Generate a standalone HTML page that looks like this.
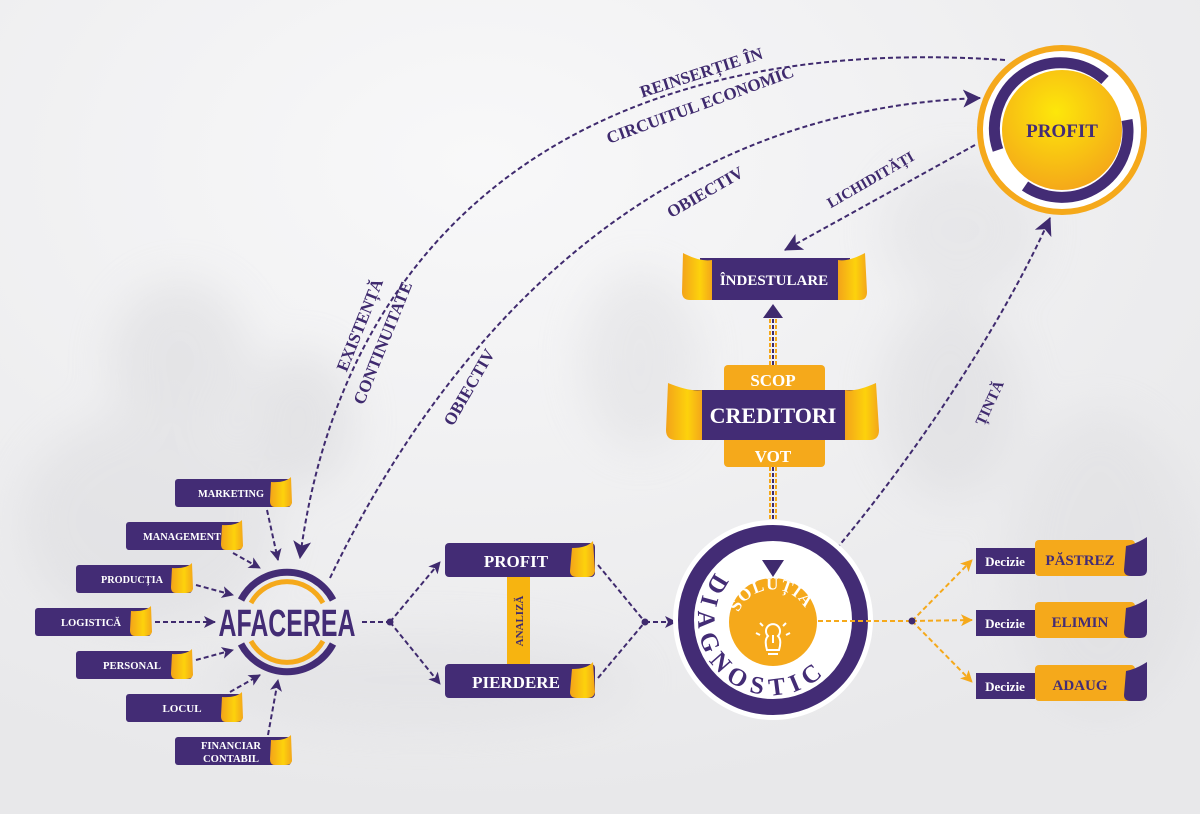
<!DOCTYPE html>
<html><head><meta charset="utf-8"><style>
html,body{margin:0;padding:0;width:1200px;height:814px;overflow:hidden;background:#ededef}
svg{display:block}
text{font-family:"Liberation Serif","DejaVu Serif",serif;font-weight:bold}
</style></head><body>
<svg width="1200" height="814" viewBox="0 0 1200 814" xmlns="http://www.w3.org/2000/svg">
<defs>
<filter id="blur" x="-50%" y="-50%" width="200%" height="200%"><feGaussianBlur stdDeviation="22"/></filter>
<radialGradient id="gy" cx="45%" cy="35%" r="70%"><stop offset="0" stop-color="#fde70a"/><stop offset="1" stop-color="#f4a41a"/></radialGradient>
<radialGradient id="bg" cx="40%" cy="20%" r="80%"><stop offset="0" stop-color="#f8f8f9"/><stop offset="1" stop-color="#e8e8ea"/></radialGradient>
<linearGradient id="curl" x1="0" y1="0" x2="1" y2="0"><stop offset="0" stop-color="#f3a31a"/><stop offset=".6" stop-color="#fdd20c"/><stop offset="1" stop-color="#f3a61a"/></linearGradient>
<marker id="ap" viewBox="0 0 12 12" refX="11" refY="6" markerWidth="12" markerHeight="12" markerUnits="userSpaceOnUse" orient="auto"><path d="M0,0 L12,6 L0,12 L3,6Z" fill="#3f2a6e"/></marker>
<marker id="apb" viewBox="0 0 16 16" refX="15" refY="8" markerWidth="18" markerHeight="18" markerUnits="userSpaceOnUse" orient="auto"><path d="M0,0 L16,8 L0,16 L4,8Z" fill="#3f2a6e"/></marker>
<marker id="ay" viewBox="0 0 12 12" refX="11" refY="6" markerWidth="12" markerHeight="12" markerUnits="userSpaceOnUse" orient="auto"><path d="M0,0 L12,6 L0,12 L3,6Z" fill="#f5a91b"/></marker>
</defs>

<rect width="1200" height="814" fill="url(#bg)"/>
<g filter="url(#blur)" opacity=".3">
<ellipse cx="180" cy="360" rx="70" ry="80" fill="#c9c9cd"/>
<ellipse cx="150" cy="520" rx="130" ry="110" fill="#cfcfd3"/>
<ellipse cx="300" cy="420" rx="55" ry="70" fill="#c6c6ca"/>
<ellipse cx="640" cy="360" rx="60" ry="90" fill="#d0d0d4"/>
<ellipse cx="960" cy="230" rx="80" ry="70" fill="#d4d4d8"/>
<ellipse cx="950" cy="400" rx="70" ry="100" fill="#cdcdd1"/>
<ellipse cx="1100" cy="560" rx="90" ry="150" fill="#d6d6d9"/>
<ellipse cx="420" cy="680" rx="220" ry="50" fill="#d7d7da"/>
</g>

<g fill="none" stroke="#3f2a6e" stroke-width="2" stroke-dasharray="5 3">
<path d="M1005,60 C560,30 340,250 300,558" marker-end="url(#apb)"/>
<path d="M330,578 C440,350 640,110 980,98" marker-end="url(#apb)"/>
<path d="M975,145 L785,250" marker-end="url(#apb)"/>
<path d="M805,585 C900,480 1000,330 1050,218" marker-end="url(#apb)"/>
</g>

<g fill="#3f2a6e" font-size="17" text-anchor="middle">
<text transform="translate(703,78) rotate(-18)">REINSERȚIE ÎN</text>
<text transform="translate(702,110) rotate(-20)">CIRCUITUL ECONOMIC</text>
<text transform="translate(708,197) rotate(-30)">OBIECTIV</text>
<text transform="translate(365,327) rotate(-68)">EXISTENȚĂ</text>
<text transform="translate(388,345) rotate(-68)">CONTINUITATE</text>
<text transform="translate(474,390) rotate(-60)">OBIECTIV</text>
<text transform="translate(873,184) rotate(-30)" font-size="15">LICHIDITĂȚI</text>
<text transform="translate(994,405) rotate(-65)" font-size="15">ȚINTĂ</text>
</g>

<g font-size="11" fill="#fff" text-anchor="middle">
<g transform="translate(175,479)"><rect width="116" height="28" rx="3" fill="#432c75"/><path d="M96,3 Q110,4 116,-2 L117,24 Q116,28 110,28 L100,28 Q95,28 95,22Z" fill="url(#curl)"/><text x="56" y="18" textLength="66" lengthAdjust="spacingAndGlyphs">MARKETING</text></g>
<g transform="translate(126,522)"><rect width="116" height="28" rx="3" fill="#432c75"/><path d="M96,3 Q110,4 116,-2 L117,24 Q116,28 110,28 L100,28 Q95,28 95,22Z" fill="url(#curl)"/><text x="56" y="18" textLength="78" lengthAdjust="spacingAndGlyphs">MANAGEMENT</text></g>
<g transform="translate(76,565)"><rect width="116" height="28" rx="3" fill="#432c75"/><path d="M96,3 Q110,4 116,-2 L117,24 Q116,28 110,28 L100,28 Q95,28 95,22Z" fill="url(#curl)"/><text x="56" y="18" textLength="62" lengthAdjust="spacingAndGlyphs">PRODUCȚIA</text></g>
<g transform="translate(35,608)"><rect width="116" height="28" rx="3" fill="#432c75"/><path d="M96,3 Q110,4 116,-2 L117,24 Q116,28 110,28 L100,28 Q95,28 95,22Z" fill="url(#curl)"/><text x="56" y="18" textLength="60" lengthAdjust="spacingAndGlyphs">LOGISTICĂ</text></g>
<g transform="translate(76,651)"><rect width="116" height="28" rx="3" fill="#432c75"/><path d="M96,3 Q110,4 116,-2 L117,24 Q116,28 110,28 L100,28 Q95,28 95,22Z" fill="url(#curl)"/><text x="56" y="18" textLength="58" lengthAdjust="spacingAndGlyphs">PERSONAL</text></g>
<g transform="translate(126,694)"><rect width="116" height="28" rx="3" fill="#432c75"/><path d="M96,3 Q110,4 116,-2 L117,24 Q116,28 110,28 L100,28 Q95,28 95,22Z" fill="url(#curl)"/><text x="56" y="18">LOCUL</text></g>
<g transform="translate(175,737)"><rect width="116" height="28" rx="3" fill="#432c75"/><path d="M96,3 Q110,4 116,-2 L117,24 Q116,28 110,28 L100,28 Q95,28 95,22Z" fill="url(#curl)"/><text x="56" y="12" textLength="60" lengthAdjust="spacingAndGlyphs">FINANCIAR</text><text x="56" y="25" textLength="56" lengthAdjust="spacingAndGlyphs">CONTABIL</text></g>
</g>
<g fill="none" stroke="#3f2a6e" stroke-width="2" stroke-dasharray="5 3">
<path d="M267,510 L278,560" marker-end="url(#ap)"/>
<path d="M233,553 L260,568" marker-end="url(#ap)"/>
<path d="M196,585 L233,595" marker-end="url(#ap)"/>
<path d="M155,622 L215,622" marker-end="url(#ap)"/>
<path d="M196,660 L233,650" marker-end="url(#ap)"/>
<path d="M230,692 L260,675" marker-end="url(#ap)"/>
<path d="M268,735 L278,680" marker-end="url(#ap)"/>
</g>

<g fill="none">
<path d="M241,600 A52,52 0 0 1 333,600" stroke="#432c75" stroke-width="7"/>
<path d="M251,603 A41,41 0 0 1 323,603" stroke="#f5a91b" stroke-width="5"/>
<path d="M241,644 A52,52 0 0 0 333,644" stroke="#432c75" stroke-width="7"/>
<path d="M251,641 A41,41 0 0 0 323,641" stroke="#f5a91b" stroke-width="5"/>
</g>
<text x="287" y="636" font-size="38" fill="#432c75" text-anchor="middle" textLength="137" lengthAdjust="spacingAndGlyphs" style="font-family:'Liberation Sans',sans-serif">AFACEREA</text>

<g fill="none" stroke="#3f2a6e" stroke-width="2" stroke-dasharray="5 3">
<path d="M362,622 L390,622"/>
<path d="M390,622 L440,562" marker-end="url(#ap)"/>
<path d="M390,622 L440,684" marker-end="url(#ap)"/>
<path d="M598,565 L645,622"/>
<path d="M598,678 L645,622"/>
<path d="M645,622 L676,622" marker-end="url(#ap)"/>
</g>
<circle cx="390" cy="622" r="3.5" fill="#3f2a6e"/><circle cx="645" cy="622" r="3.5" fill="#3f2a6e"/>

<rect x="507" y="575" width="23" height="92" fill="#f7b410"/>
<text transform="translate(523,621) rotate(-90)" font-size="11" fill="#3f2a6e" text-anchor="middle">ANALIZĂ</text>
<g transform="translate(445,543)"><rect width="150" height="34" rx="4" fill="#432c75"/><path d="M127,5 Q142,5 148,-2 L150,28 Q149,34 142,34 L132,34 Q125,34 125,28Z" fill="url(#curl)"/><text x="71" y="24" font-size="17" fill="#fff" text-anchor="middle">PROFIT</text></g>
<g transform="translate(445,664)"><rect width="150" height="34" rx="4" fill="#432c75"/><path d="M127,5 Q142,5 148,-2 L150,28 Q149,34 142,34 L132,34 Q125,34 125,28Z" fill="url(#curl)"/><text x="71" y="24" font-size="17" fill="#fff" text-anchor="middle">PIERDERE</text></g>

<g fill="none" stroke-width="2" stroke-dasharray="4 2">
<path d="M770,467 L770,560" stroke="#f5a91b"/><path d="M776,467 L776,560" stroke="#f5a91b"/><path d="M773,467 L773,562" stroke="#3f2a6e"/>
<path d="M770,365 L770,318" stroke="#f5a91b"/><path d="M776,365 L776,318" stroke="#f5a91b"/><path d="M773,365 L773,318" stroke="#3f2a6e"/>
</g>
<path d="M763,318 L773,304 L783,318Z" fill="#3f2a6e"/>

<circle cx="773" cy="620" r="100" fill="#fff"/>
<circle cx="773" cy="620" r="87" fill="none" stroke="#432c75" stroke-width="16"/>
<circle cx="773" cy="622" r="44" fill="#f5a91b"/>
<path d="M762,560 L773,577 L784,560Z" fill="#3f2a6e"/>
<path id="dg" d="M716,573 A74,74 0 1 0 838,655" fill="none"/>
<text font-size="25" fill="#432c75" letter-spacing="7"><textPath href="#dg">DIAGNOSTIC</textPath></text>
<path id="sl" d="M746,652 A37,37 0 1 1 808,638" fill="none"/>
<text font-size="17" fill="#fff" letter-spacing="1"><textPath href="#sl" startOffset="54%" text-anchor="middle">SOLUȚIA</textPath></text>
<g fill="none" stroke="#fff" stroke-width="2"><path d="M767,650 Q764,640 768,636 A7,7 0 1 1 778,636 Q782,640 779,650Z"/><path d="M768,654 L778,654"/><path d="M773,635 L773,643"/><path d="M760,635 L756,633 M786,635 L790,633 M763,626 L760,623 M783,626 L786,623"/></g>

<g fill="none" stroke="#f5a91b" stroke-width="2" stroke-dasharray="5 3">
<path d="M818,621 L912,621"/>
<path d="M912,621 L972,560" marker-end="url(#ay)"/>
<path d="M912,621 L972,620" marker-end="url(#ay)"/>
<path d="M912,621 L972,682" marker-end="url(#ay)"/>
</g>
<circle cx="912" cy="621" r="3.5" fill="#3f2a6e"/>
<g font-size="13" text-anchor="middle">
<g transform="translate(976,540)"><rect x="0" y="8" width="59" height="26" fill="#432c75"/><rect x="59" y="0" width="100" height="36" rx="4" fill="#f5a91b"/><path d="M150,6 Q160,4 171,-3 L171,30 Q171,36 164,36 L155,36 Q148,36 148,30Z" fill="#432c75"/><text x="29" y="26" fill="#fff">Decizie</text><text x="104" y="25" font-size="15" fill="#432c75">PĂSTREZ</text></g>
<g transform="translate(976,602)"><rect x="0" y="8" width="59" height="26" fill="#432c75"/><rect x="59" y="0" width="100" height="36" rx="4" fill="#f5a91b"/><path d="M150,6 Q160,4 171,-3 L171,30 Q171,36 164,36 L155,36 Q148,36 148,30Z" fill="#432c75"/><text x="29" y="26" fill="#fff">Decizie</text><text x="104" y="25" font-size="15" fill="#432c75">ELIMIN</text></g>
<g transform="translate(976,665)"><rect x="0" y="8" width="59" height="26" fill="#432c75"/><rect x="59" y="0" width="100" height="36" rx="4" fill="#f5a91b"/><path d="M150,6 Q160,4 171,-3 L171,30 Q171,36 164,36 L155,36 Q148,36 148,30Z" fill="#432c75"/><text x="29" y="26" fill="#fff">Decizie</text><text x="104" y="25" font-size="15" fill="#432c75">ADAUG</text></g>
</g>

<rect x="724" y="365" width="101" height="102" rx="4" fill="#f5a91b"/>
<rect x="690" y="390" width="166" height="50" fill="#432c75"/>
<path d="M668,383 Q690,392 702,390 L702,440 L676,440 Q666,440 666,430Z" fill="url(#curl)"/>
<path d="M876,383 Q856,392 845,390 L845,440 L870,440 Q879,440 879,430Z" fill="url(#curl)"/>
<text x="773" y="386" font-size="17" fill="#fff" text-anchor="middle">SCOP</text>
<text x="773" y="423" font-size="22" fill="#fff" text-anchor="middle">CREDITORI</text>
<text x="773" y="462" font-size="17" fill="#fff" text-anchor="middle">VOT</text>

<rect x="700" y="258" width="150" height="42" fill="#432c75"/>
<path d="M683,253 Q700,262 712,260 L712,300 L690,300 Q682,300 682,292Z" fill="url(#curl)"/>
<path d="M865,253 Q848,262 838,260 L838,300 L860,300 Q867,300 867,292Z" fill="url(#curl)"/>
<text x="774" y="285" font-size="15" fill="#fff" text-anchor="middle">ÎNDESTULARE</text>

<circle cx="1062" cy="130" r="82" fill="#fff" stroke="#f5a91b" stroke-width="6"/>
<path d="M998,150 A66,66 0 0 1 1105,80" fill="none" stroke="#432c75" stroke-width="11"/>
<path d="M1127,120 A66,66 0 0 1 1025,186" fill="none" stroke="#432c75" stroke-width="11"/>
<circle cx="1062" cy="130" r="60" fill="url(#gy)"/>
<text x="1062" y="137" font-size="19" fill="#432c75" text-anchor="middle">PROFIT</text>
</svg>
</body></html>
